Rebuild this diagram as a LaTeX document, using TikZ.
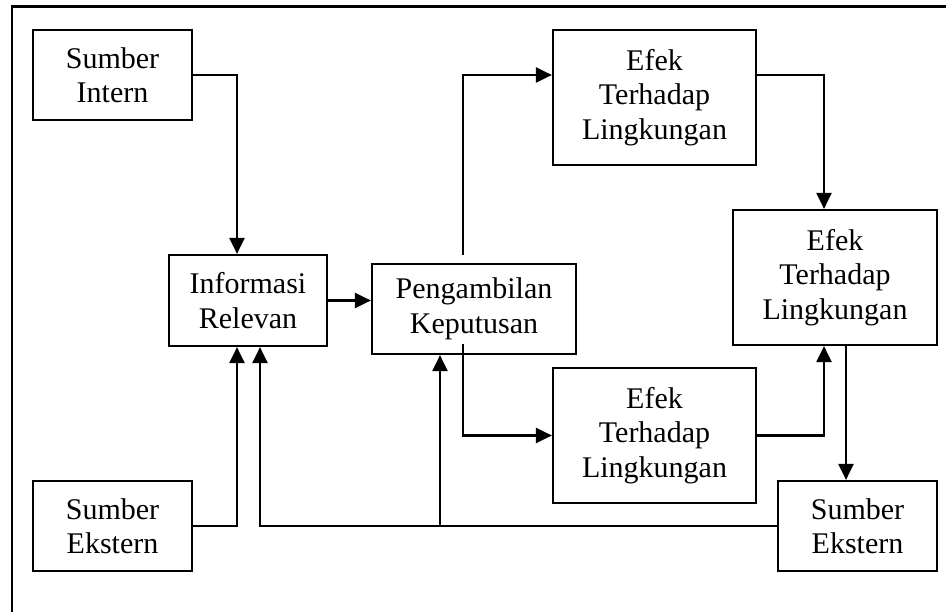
\documentclass[tikz,border=0pt]{standalone}
\usepackage{fontspec}
\setmainfont{Liberation Serif}
\usetikzlibrary{arrows.meta}

\begin{document}
\begin{tikzpicture}[x={(1pt,0)}, y={(0,-1pt)},
  box/.style={draw=black, line width=2.2pt, fill=white, align=center, inner sep=0pt,
    font=\fontsize{30}{34.5}\selectfont},
  small/.style={box, minimum width=159pt, minimum height=90pt},
  big/.style={box, minimum width=203pt, minimum height=135pt},
  link/.style={draw=black, line width=2.2pt},
  arr/.style={link, -{Triangle[length=16pt,width=15pt]}}]

  % page area and frame
  \useasboundingbox (0,0) rectangle (946,612);
  \fill[white] (0,0) rectangle (946,612);
  \draw[line width=2.6pt] (946,6.5) -- (12,6.5) -- (12,612);

  % boxes
  \node[small] (si)  at (112.5,75)  {Sumber\\Intern};
  \node[box, minimum width=158pt, minimum height=91pt] (ir) at (248,300.5) {Informasi\\Relevan};
  \node[box, minimum width=204pt, minimum height=90pt] (pk) at (474,309) {Pengambilan\\Keputusan};
  \node[big]   (e1)  at (654.5,97.5)  {Efek\\Terhadap\\Lingkungan};
  \node[big, minimum width=204pt] (e2) at (835,277.5) {Efek\\Terhadap\\Lingkungan};
  \node[big]   (e3)  at (654.5,435.5) {Efek\\Terhadap\\Lingkungan};
  \node[small] (se1) at (112.5,526) {Sumber\\Ekstern};
  \node[small] (se2) at (857.5,526) {Sumber\\Ekstern};

  % connectors
  \draw[arr] (si.east) -| ([xshift=-11pt]ir.north);
  \draw[arr] (ir.east) -- (ir.east -| pk.west);
  \draw[arr] ([xshift=-11pt,yshift=8pt]pk.north) |- ([yshift=22.5pt]e1.west);
  \draw[arr] ([yshift=22.5pt]e1.east) -| ([xshift=-11pt]e2.north);
  \draw[arr] ([xshift=-11pt,yshift=11pt]pk.south) |- (e3.west);
  \draw[arr] (e3.east) -| ([xshift=-11pt]e2.south);
  \draw[arr] ([xshift=11pt]e2.south) -- ([xshift=11pt]e2.south |- se2.north);
  \draw[arr] (se1.east) -| ([xshift=-11pt]ir.south);
  \draw[arr] (se2.west) -| ([xshift=12pt]ir.south);
  \coordinate (j) at ([xshift=-34pt]pk.south |- se2.west);
  \draw[arr] (j) -- ([xshift=-34pt]pk.south);
\end{tikzpicture}
\end{document}
